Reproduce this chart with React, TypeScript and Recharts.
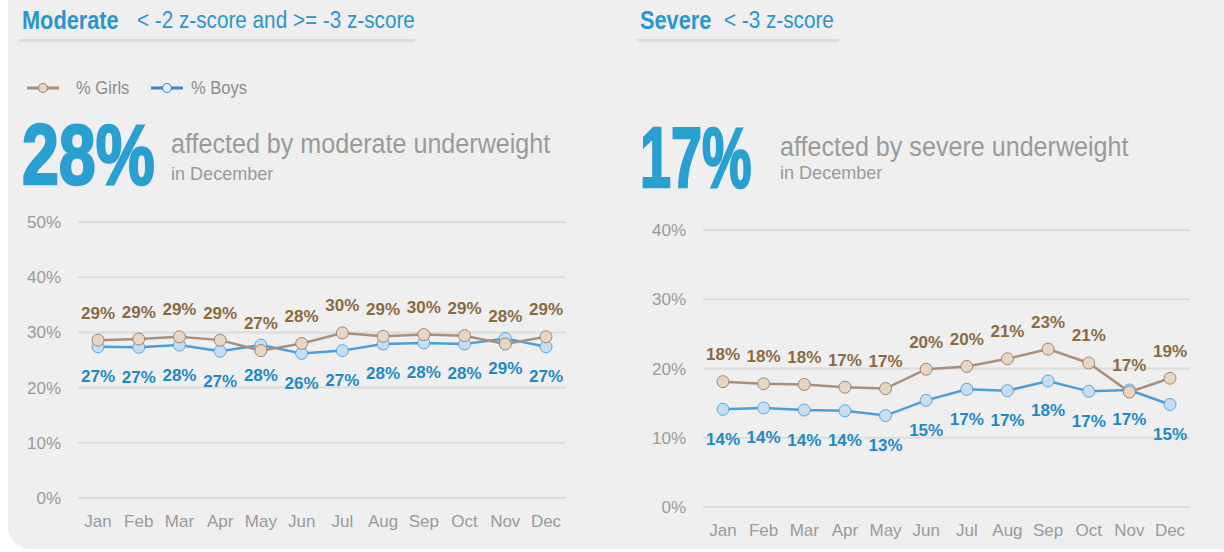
import React from "react";
import { LineChart, Line, XAxis, YAxis, CartesianGrid } from "recharts";

const months = ["Jan", "Feb", "Mar", "Apr", "May", "Jun", "Jul", "Aug", "Sep", "Oct", "Nov", "Dec"];

const moderateGirls = [28.6, 28.8, 29.2, 28.6, 26.7, 28.0, 29.9, 29.3, 29.6, 29.4, 27.9, 29.2];
const moderateBoys = [27.4, 27.3, 27.7, 26.6, 27.7, 26.2, 26.7, 27.9, 28.1, 27.9, 28.9, 27.4];
const severeGirls = [18.1, 17.8, 17.7, 17.3, 17.1, 19.9, 20.3, 21.4, 22.8, 20.8, 16.6, 18.6];
const severeBoys = [14.1, 14.3, 14.0, 13.9, 13.2, 15.4, 17.0, 16.8, 18.2, 16.7, 16.9, 14.8];

const moderateTicks = [0, 10, 20, 30, 40, 50];
const severeTicks = [0, 10, 20, 30, 40];

const FONT = "'Liberation Sans', Arial, sans-serif";
const BLUE = "#2a96d0";
const GREY_TEXT = "#9a9a9a";
const GIRL_LINE = "#a8907f";
const GIRL_DOT = "#e8d6c5";
const GIRL_DOT_STROKE = "#9f8470";
const GIRL_LABEL = "#8a6a3f";
const BOY_LINE = "#4a9fd8";
const BOY_DOT = "#c6def3";
const BOY_DOT_STROKE = "#5aa6dc";
const BOY_LABEL = "#1f89c2";

const toRows = (girls: number[], boys: number[]) =>
  months.map((m, i) => ({ month: m, girls: girls[i], boys: boys[i] }));

const makeLabel = (color: string, offset: number) => (props: any) => {
  const { x, y, value } = props;
  if (x == null || y == null) return null;
  return (
    <text
      x={x}
      y={y + offset}
      textAnchor="middle"
      dominantBaseline="central"
      fill={color}
      fontSize={17}
      fontWeight="bold"
      fontFamily={FONT}
    >
      {Math.round(value)}%
    </text>
  );
};

function Trend({
  rows,
  ticks,
  width,
  height,
  margin,
}: {
  rows: { month: string; girls: number; boys: number }[];
  ticks: number[];
  width: number;
  height: number;
  margin: { top: number; right: number; bottom: number; left: number };
}) {
  const tickStyle = { fill: GREY_TEXT, fontSize: 17, fontFamily: FONT };
  return (
    <LineChart width={width} height={height} data={rows} margin={margin}>
      <CartesianGrid vertical={false} stroke="#dcdcdc" strokeWidth={2} />
      <XAxis
        dataKey="month"
        axisLine={false}
        tickLine={false}
        tickSize={0}
        tickMargin={17}
        height={30}
        interval={0}
        padding={{ left: 20, right: 20 }}
        tick={tickStyle}
      />
      <YAxis
        domain={[ticks[0], ticks[ticks.length - 1]]}
        ticks={ticks}
        axisLine={false}
        tickLine={false}
        tickSize={0}
        tickMargin={17}
        width={60}
        tickFormatter={(v) => `${v}%`}
        tick={tickStyle}
      />
      <Line
        dataKey="boys"
        stroke={BOY_LINE}
        strokeWidth={2.5}
        dot={{ r: 6, fill: BOY_DOT, stroke: BOY_DOT_STROKE, strokeWidth: 1 }}
        label={makeLabel(BOY_LABEL, 30)}
        isAnimationActive={false}
      />
      <Line
        dataKey="girls"
        stroke={GIRL_LINE}
        strokeWidth={2.5}
        dot={{ r: 6, fill: GIRL_DOT, stroke: GIRL_DOT_STROKE, strokeWidth: 1 }}
        label={makeLabel(GIRL_LABEL, -27)}
        isAnimationActive={false}
      />
    </LineChart>
  );
}

function Header({
  left,
  title,
  sub,
  subLeft,
  lineWidth,
}: {
  left: number;
  title: string;
  sub: string;
  subLeft: number;
  lineWidth: number;
}) {
  const common: React.CSSProperties = {
    position: "absolute",
    top: 5,
    lineHeight: "30px",
    whiteSpace: "nowrap",
    color: BLUE,
    transformOrigin: "left",
  };
  return (
    <>
      <div style={{ ...common, left: left + 3, fontSize: 25, fontWeight: "bold", transform: "scaleX(0.87)" }}>{title}</div>
      <div style={{ ...common, left: subLeft, fontSize: 23, transform: "scaleX(0.9)" }}>{sub}</div>
      <div style={{ position: "absolute", left, top: 39, width: lineWidth, height: 3, background: "#dcdcdc" }} />
    </>
  );
}

function Headline({
  left,
  top,
  big,
  bigScale,
  text,
  textLeft,
  subTop,
}: {
  left: number;
  top: number;
  big: string;
  bigScale: number;
  text: string;
  textLeft: number;
  subTop: number;
}) {
  return (
    <div style={{ position: "absolute", left, top, whiteSpace: "nowrap" }}>
      <div
        style={{
          position: "absolute",
          left: 0,
          top: 0,
          fontSize: 85,
          fontWeight: "bold",
          color: "#2a9fd1",
          lineHeight: "86px",
          transform: `scaleX(${bigScale})`,
          transformOrigin: "left",
          WebkitTextStroke: "2.5px #2a9fd1",
        }}
      >
        {big}
      </div>
      <div
        style={{
          position: "absolute",
          left: textLeft,
          top: 17,
          fontSize: 27,
          color: GREY_TEXT,
          transform: "scaleX(0.93)",
          transformOrigin: "left",
        }}
      >
        {text}
      </div>
      <div
        style={{
          position: "absolute",
          left: textLeft,
          top: subTop,
          fontSize: 19,
          color: GREY_TEXT,
          transform: "scaleX(0.95)",
          transformOrigin: "left",
        }}
      >
        in December
      </div>
    </div>
  );
}

function LegendItem({
  left,
  textLeft,
  line,
  dot,
  dotStroke,
  label,
}: {
  left: number;
  textLeft: number;
  line: string;
  dot: string;
  dotStroke: string;
  label: string;
}) {
  return (
    <>
      <svg style={{ position: "absolute", left, top: 81 }} width={32} height={14}>
        <line x1={0} y1={7} x2={32} y2={7} stroke={line} strokeWidth={3} />
        <circle cx={16} cy={7} r={4.5} fill={dot} stroke={dotStroke} strokeWidth={1.2} />
      </svg>
      <div
        style={{
          position: "absolute",
          left: textLeft,
          top: 76,
          lineHeight: "24px",
          fontSize: 18,
          color: "#8c8c8c",
          transform: "scaleX(0.92)",
          transformOrigin: "left",
          whiteSpace: "nowrap",
        }}
      >
        {label}
      </div>
    </>
  );
}

export default function App() {
  return (
    <div
      style={{
        position: "fixed",
        left: 0,
        top: 0,
        width: 1224,
        height: 552,
        background: "#ffffff",
        overflow: "hidden",
        fontFamily: FONT,
      }}
    >
      <div
        style={{
          position: "absolute",
          left: 8,
          top: -40,
          width: 1240,
          height: 589,
          background: "#efefef",
          borderRadius: 22,
        }}
      />
      <Header left={19} title="Moderate" sub="< -2 z-score and >= -3 z-score" subLeft={137} lineWidth={396} />
      <Header left={637} title="Severe" sub="< -3 z-score" subLeft={724} lineWidth={202} />

      <LegendItem left={27} textLeft={76} line={GIRL_LINE} dot={GIRL_DOT} dotStroke={GIRL_DOT_STROKE} label="% Girls" />
      <LegendItem left={151} textLeft={191} line="#3c88c8" dot="#e3f0fa" dotStroke="#3c88c8" label="% Boys" />

      <Headline left={22} top={112} big="28%" bigScale={0.78} text="affected by moderate underweight" textLeft={149} subTop={51} />
      <Headline left={640} top={115} big="17%" bigScale={0.655} text="affected by severe underweight" textLeft={140} subTop={47} />

      <div style={{ position: "absolute", left: 0, top: 200 }}>
        <Trend
          rows={toRows(moderateGirls, moderateBoys)}
          ticks={moderateTicks}
          width={600}
          height={345}
          margin={{ top: 22, right: 34, bottom: 17, left: 18 }}
        />
      </div>
      <div style={{ position: "absolute", left: 610, top: 200 }}>
        <Trend
          rows={toRows(severeGirls, severeBoys)}
          ticks={severeTicks}
          width={614}
          height={345}
          margin={{ top: 30, right: 34, bottom: 8, left: 33 }}
        />
      </div>
    </div>
  );
}
